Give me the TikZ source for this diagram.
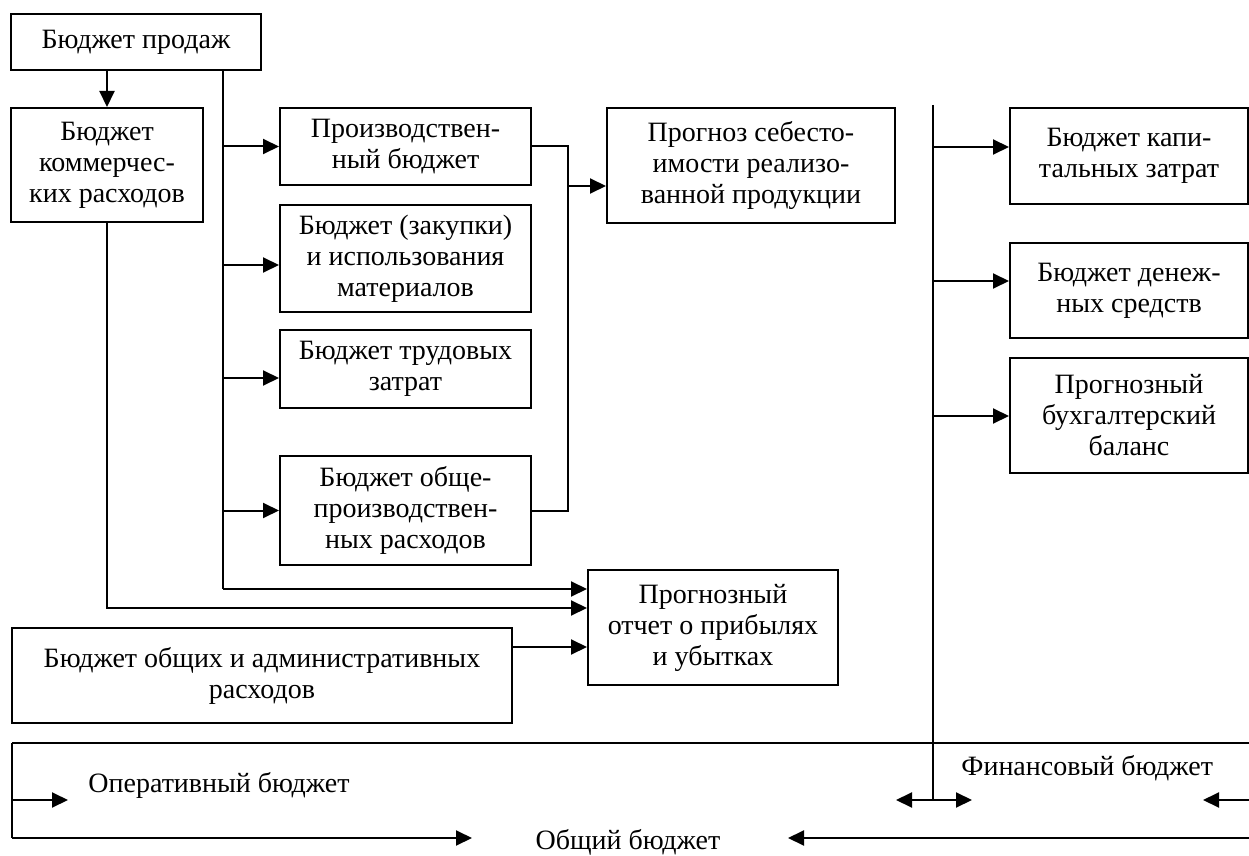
\documentclass[tikz,border=0pt]{standalone}
\usepackage{fontspec}
\setmainfont{Liberation Serif}
\usetikzlibrary{arrows.meta}
\begin{document}
\begin{tikzpicture}[x=0.5pt,y=-0.5pt,
  every node/.style={font=\fontsize{14}{15.5}\selectfont},
  box/.style={draw,line width=1pt,inner sep=0pt,align=center},
  conn/.style={line width=1pt},
  arr/.style={conn,-{Triangle[length=8pt,width=7.5pt]}},
  dbl/.style={conn,{Triangle[length=8pt,width=7.5pt]}-{Triangle[length=8pt,width=7.5pt]}},
  lbl/.style={inner sep=0pt}]
\useasboundingbox (0,0) rectangle (1249,856);

% boxes
\node[box,minimum width=125pt,minimum height=28pt] (sales) at (136,42) {Бюджет продаж};
\node[box,minimum width=96pt,minimum height=57pt] (comm) at (107,165) {Бюджет\\коммерчес-\\ких расходов};
\node[box,minimum width=125.5pt,minimum height=38.5pt] (prod) at (405.5,146.5) {Производствен-\\ный бюджет};
\node[box,minimum width=125.5pt,minimum height=53.5pt] (mat) at (405.5,258.5) {Бюджет (закупки)\\и использования\\материалов};
\node[box,minimum width=125.5pt,minimum height=39pt] (lab) at (405.5,369) {Бюджет трудовых\\затрат};
\node[box,minimum width=125.5pt,minimum height=54.5pt] (ovh) at (405.5,510.5) {Бюджет обще-\\производствен-\\ных расходов};
\node[box,minimum width=144pt,minimum height=57.5pt] (cost) at (751,165.5) {Прогноз себесто-\\имости реализо-\\ванной продукции};
\node[box,minimum width=125pt,minimum height=57.5pt] (pl) at (713,627.5) {Прогнозный\\отчет о прибылях\\и убытках};
\node[box,minimum width=250pt,minimum height=47.5pt] (adm) at (262,675.5) {Бюджет общих и административных\\расходов};
\node[box,minimum width=119pt,minimum height=48pt] (cap) at (1129,156) {Бюджет капи-\\тальных затрат};
\node[box,minimum width=119pt,minimum height=47.5pt] (cash) at (1129,290.5) {Бюджет денеж-\\ных средств};
\node[box,minimum width=119pt,minimum height=57.5pt] (bal) at (1129,415.5) {Прогнозный\\бухгалтерский\\баланс};

% labels of the bottom bar
\node[lbl,anchor=west] (op) at (88,785) {Оперативный бюджет};
\node[lbl,anchor=west] (fin) at (961,768) {Финансовый бюджет};
\node[lbl] (gen) at (628,842) {Общий бюджет};

% coordinates
\coordinate (bus) at (223,70);
\coordinate (m1) at (223,265);
\coordinate (m2) at (223,378);
\coordinate (j1) at (568,186);
\coordinate (p1) at (223,589);
\coordinate (p2) at (107,608);
\coordinate (p3) at (512,647);
\coordinate (fb) at (933,105);
\coordinate (fj) at (933,800);
\coordinate (f1) at (933,147);
\coordinate (f2) at (933,281);
\coordinate (f3) at (933,416);
\coordinate (barTL) at (12,743);
\coordinate (barTR) at (1249,743);
\coordinate (barBL) at (12,838);
\coordinate (barBR) at (1249,838);
\coordinate (genL) at (472,838);
\coordinate (genR) at (788,838);
\coordinate (opS) at (12,800);
\coordinate (opE) at (68,800);
\coordinate (fL) at (896,800);
\coordinate (fR) at (972,800);
\coordinate (finS) at (1249,800);
\coordinate (finE) at (1203,800);

% connectors
\draw[arr] (sales.south -| comm.north) -- (comm.north);
\draw[conn] (bus) -- (p1);
\draw[arr] (bus |- prod.west) -- (prod.west);
\draw[arr] (m1) -- (m1 -| mat.west);
\draw[arr] (m2) -- (m2 -| lab.west);
\draw[arr] (bus |- ovh.west) -- (ovh.west);
\draw[conn] (prod.east) -| (j1) |- (ovh.east);
\draw[arr] (j1) -- (j1 -| cost.west);
\draw[arr] (p1) -- (p1 -| pl.west);
\draw[arr] (comm.south) |- (p2 -| pl.west);
\draw[arr] (p3) -- (p3 -| pl.west);
\draw[conn] (fb) -- (fj);
\draw[arr] (f1) -- (f1 -| cap.west);
\draw[arr] (f2) -- (f2 -| cash.west);
\draw[arr] (f3) -- (f3 -| bal.west);

% bottom bar
\draw[conn] (barTL) -- (barTR);
\draw[conn] (barTL) -- (barBL);
\draw[arr] (barBL) -- (genL);
\draw[arr] (barBR) -- (genR);
\draw[arr] (opS) -- (opE);
\draw[dbl] (fL) -- (fR);
\draw[arr] (finS) -- (finE);
\end{tikzpicture}
\end{document}
